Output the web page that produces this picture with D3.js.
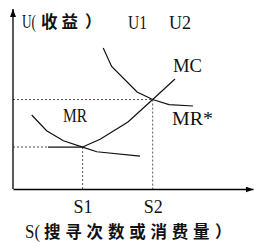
<!DOCTYPE html>
<html lang="zh">
<head>
  <meta charset="utf-8">
  <title>MR MC</title>
  <script src="https://cdn.jsdelivr.net/npm/d3@7"></script>
  <style>
    body { margin: 0; background: #fff; }
  </style>
</head>
<body>
<script>
// values (x = search count, y = utility)
var sTicks = [2.9, 5.82];
var sLabels = ["S1", "S2"];
var uLevels = [2.33, 4.97];

var mrX = [0.78, 1.4, 2.1, 2.9, 3.49, 5.29];
var mrY = [4.11, 3.24, 2.68, 2.33, 2.07, 1.83];

var mrStarX = [3.76, 4.11, 5.17, 5.82, 6.5, 7.5];
var mrStarY = [7.83, 6.81, 5.39, 4.97, 4.69, 4.61];

var mcX = [2.9, 3.63, 4.79, 5.82, 6.75];
var mcY = [2.33, 2.76, 3.72, 4.97, 6.11];

var flatStart = 1.46; // solid horizontal part of the lower level

var W = 254, H = 242;
var SERIF = "Liberation Serif, DejaVu Serif, serif";
var CJK = "Noto Sans CJK SC, sans-serif";

var x = d3.scaleLinear().domain([0, 10]).range([13, 253]);
var y = d3.scaleLinear().domain([0, 10]).range([189, 9]);

var svg = d3.select("body").append("svg")
  .attr("width", W).attr("height", H);

var defs = svg.append("defs");
defs.append("marker")
  .attr("id", "arr")
  .attr("viewBox", "0 0 8 6")
  .attr("refX", 8).attr("refY", 3)
  .attr("markerWidth", 8).attr("markerHeight", 6)
  .attr("markerUnits", "userSpaceOnUse")
  .attr("orient", "auto")
  .append("path").attr("d", "M0,0L8,3L0,6Z").attr("fill", "#000");

var toPts = (xs, ys) => xs.map((v, i) => [v, ys[i]]);
var line = d3.line().x(d => x(d[0])).y(d => y(d[1]));

// dotted guides
var guides = svg.append("g")
  .attr("stroke", "#555").attr("stroke-width", 1)
  .attr("stroke-dasharray", "2,2").attr("fill", "none");
guides.append("path").attr("d", line([[0, uLevels[1]], [sTicks[1], uLevels[1]]]));
guides.append("path").attr("d", line([[0, uLevels[0]], [flatStart, uLevels[0]]]));
sTicks.forEach((s, i) => {
  guides.append("path").attr("d", line([[s, uLevels[i]], [s, 0]]));
});

// curves
var curves = svg.append("g")
  .attr("stroke", "#111").attr("stroke-width", 1.2).attr("fill", "none");
curves.append("path").attr("d", line(toPts(mrX, mrY)));
curves.append("path").attr("d", line(toPts(mrStarX, mrStarY)));
curves.append("path").attr("d", line(toPts(mcX, mcY)));
curves.append("path").attr("d", line([[flatStart, uLevels[0]], [sTicks[0], uLevels[0]]]));

// axes
var xAxis = d3.axisBottom(x)
  .tickValues(sTicks)
  .tickFormat((d, i) => sLabels[i])
  .tickSize(0).tickSizeOuter(0).tickPadding(11);
var gx = svg.append("g").attr("transform", `translate(0,${y(0)})`).call(xAxis);
gx.select(".domain").attr("stroke", "#000").attr("stroke-width", 1.3)
  .attr("marker-end", "url(#arr)");
gx.selectAll(".tick text")
  .style("font-family", SERIF).style("font-size", "18px")
  .attr("fill", "#111").attr("dy", "0.71em")
  .attr("textLength", 19).attr("lengthAdjust", "spacingAndGlyphs");

var yAxis = d3.axisLeft(y).tickValues([]).tickSizeOuter(0);
var gy = svg.append("g").attr("transform", `translate(${x(0)},0)`).call(yAxis);
gy.select(".domain").attr("stroke", "#000").attr("stroke-width", 1.3)
  .attr("d", `M0,${y(0)}V${y(10)}`)
  .attr("marker-end", "url(#arr)");

// labels
function label(px, py, str, len) {
  var t = svg.append("text").attr("x", px).attr("y", py)
    .style("font-family", SERIF).style("font-size", "18px").attr("fill", "#111")
    .text(str);
  if (len) t.attr("textLength", len).attr("lengthAdjust", "spacingAndGlyphs");
  return t;
}
// mixed label: latin head, then han characters, then full-width paren
function mixed(py, px, latin, latinLen, hx, str, spacing, cx) {
  label(px, py, latin, latinLen);
  svg.append("text").attr("x", hx).attr("y", py).attr("fill", "#111")
    .style("font-family", CJK).style("font-size", "16.5px")
    .style("font-weight", 700).style("letter-spacing", spacing + "px")
    .text(str);
  svg.append("text").attr("x", cx).attr("y", py).attr("fill", "#111")
    .style("font-family", CJK).style("font-size", "16.5px")
    .style("font-weight", 700).text("）");
}

mixed(28, 22, "U(", 14, 41, "收益", 4, 85);

label(128, 29, "U1", 19);
label(169, 29, "U2", 22);
label(173, 72, "MC", 29);
label(63, 122, "MR", 24);
label(172, 125, "MR*", 41);

mixed(238, 25, "S(", 15, 44, "搜寻次数或消费量", 4.8, 215);
</script>
</body>
</html>
